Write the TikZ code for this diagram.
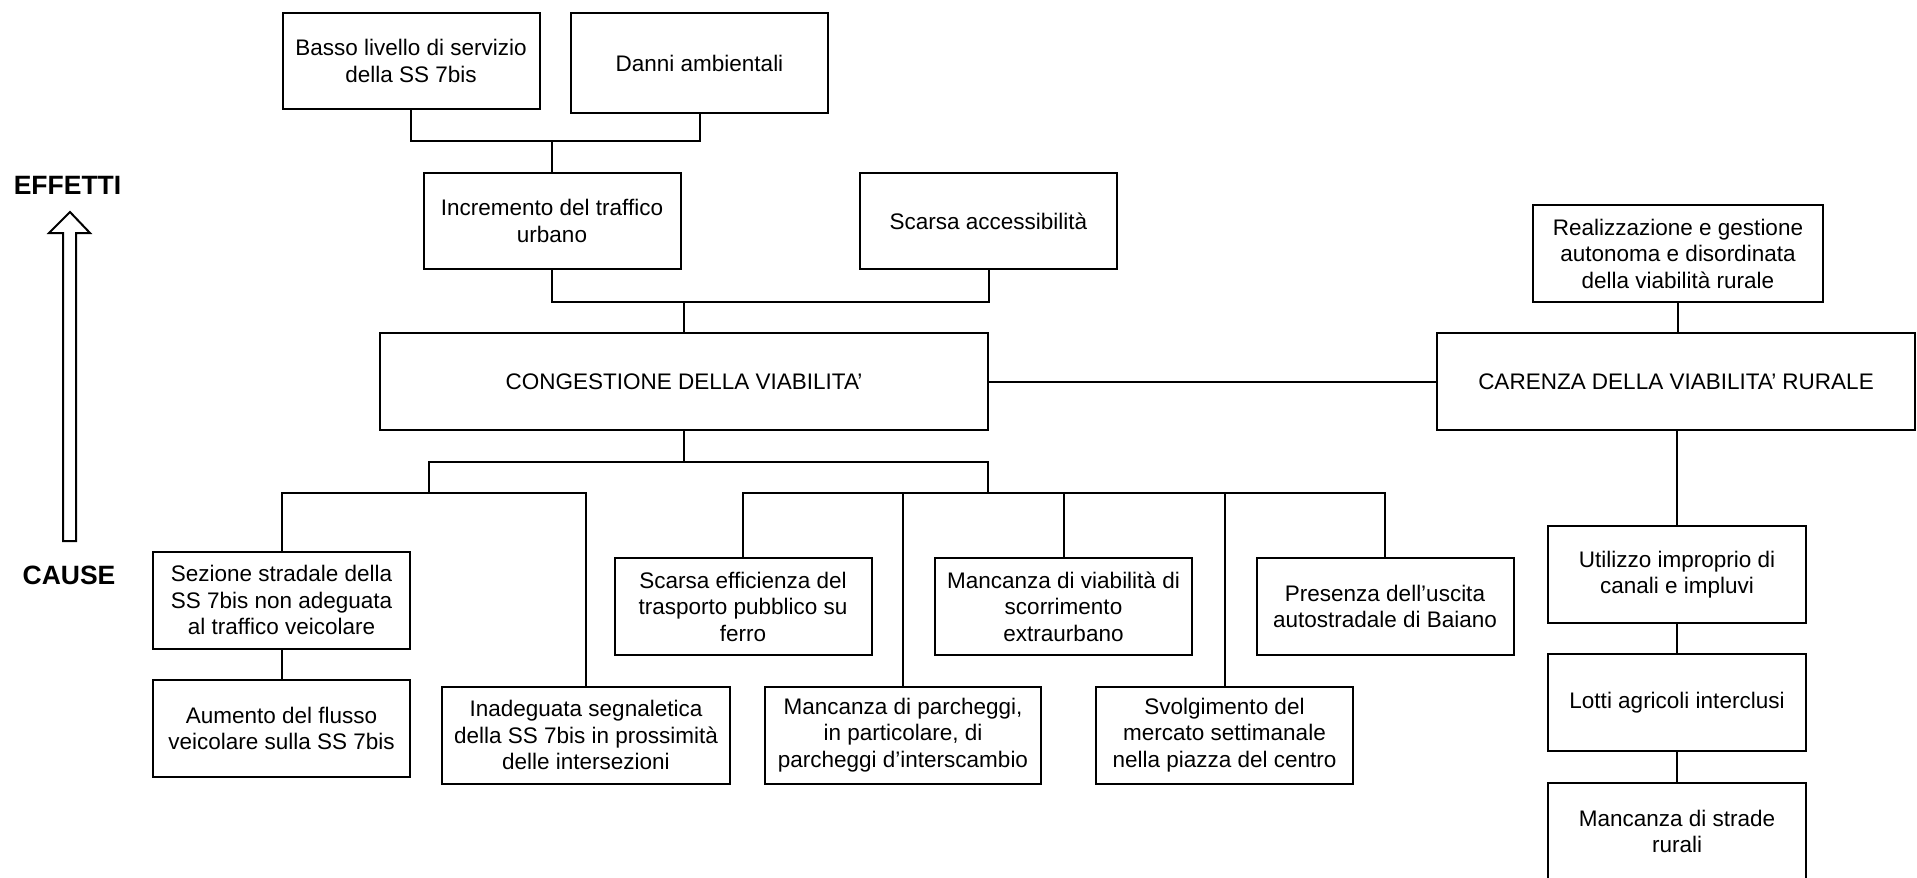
\documentclass[tikz,border=0pt]{standalone}
\usepackage{fontspec}
\setmainfont{Liberation Sans}
\usetikzlibrary{positioning,calc}

\begin{document}
\begin{tikzpicture}[x=0.5pt, y=-0.5pt,
    box/.style={draw, line width=1pt, fill=white, align=center, inner sep=0pt,
      minimum width=128.5pt, minimum height=48.5pt,
      font=\fontsize{11.25pt}{13.25pt}\selectfont},
    conn/.style={line width=1pt},
    lbl/.style={font=\fontsize{13.25pt}{15pt}\selectfont\bfseries}]
    \fill[white] (0,0) rectangle (1917,878);
    \useasboundingbox (0,0) rectangle (1917,878);
    \clip (0,0) rectangle (1917,878);

    % effetti / cause
    \node[lbl] (effetti) at (67.5,185) {EFFETTI};
    \node[lbl] (cause) at (69,575) {CAUSE};
    \draw[line width=1pt, line join=miter] (63,541) -- (63,233) -- (49,233) -- (70,212)
      -- (90,233) -- (76,233) -- (76,541) -- cycle;

    % effetti
    \node[box, minimum height=48pt] (basso) at (411,61) {Basso livello di servizio\\della SS 7bis};
    \node[box, minimum height=50pt] (danni) at (699.5,63) {Danni ambientali};
    \node[box, minimum height=48pt] (incr) at (552,221) {Incremento del traffico\\urbano};
    \node[box, minimum height=48pt] (scacc) at (988.5,221) {Scarsa accessibilità};

    % problemi centrali
    \node[box, minimum width=304pt] (cong) at (684,381.5) {CONGESTIONE DELLA VIABILITA'};
    \node[box, minimum width=239pt] (carenza) at (1676,381.5) {CARENZA DELLA VIABILITA' RURALE};
    \node[box, minimum width=145pt] (real) at (1678,253.5) {Realizzazione e gestione\\autonoma e disordinata\\della viabilità rurale};

    % cause
    \node[box] (sez) at (281.5,600) {Sezione stradale della\\SS 7bis non adeguata\\al traffico veicolare};
    \node[box] (aum) at (281.5,728.5) {Aumento del flusso\\veicolare sulla SS 7bis};
    \node[box, minimum width=144pt] (inad) at (586,735) {Inadeguata segnaletica\\della SS 7bis in prossimità\\delle intersezioni};
    \node[box] (trasp) at (743,606.5) {Scarsa efficienza del\\trasporto pubblico su\\ferro};
    \node[box, minimum width=138pt] (parch) at (903,735) {Mancanza di parcheggi,\\in particolare, di\\parcheggi d'interscambio};
    \node[box] (scorr) at (1063.5,606.5) {Mancanza di viabilità di\\scorrimento\\extraurbano};
    \node[box] (mercato) at (1224.5,735) {Svolgimento del\\mercato settimanale\\nella piazza del centro};
    \node[box] (uscita) at (1385,606.5) {Presenza dell'uscita\\autostradale di Baiano};

    % cause rurali
    \node[box, minimum width=129pt] (util) at (1677,574.5) {Utilizzo improprio di\\canali e impluvi};
    \node[box, minimum width=129pt] (lotti) at (1677,702.5) {Lotti agricoli interclusi};
    \node[box, minimum width=129pt] (strade) at (1677,831.5) {Mancanza di strade\\rurali};

    % connettori effetti
    \coordinate (jtop) at (552,141);
    \draw[conn] (basso.south) |- (jtop) -| (danni.south);
    \draw[conn] (jtop) -- (incr.north);
    \coordinate (jmid) at (684,302);
    \draw[conn] (incr.south) |- (jmid) -| (scacc.south);
    \draw[conn] (jmid) -- (cong.north);
    \draw[conn] (cong) -- (carenza);
    \draw[conn] (real.south) -- (real.south |- carenza.north);

    % connettori cause
    \coordinate (jcause) at (684,462);
    \coordinate (jl) at (429,493);
    \coordinate (jr) at (988,493);
    \draw[conn] (cong.south) -- (jcause);
    \draw[conn] (jl) |- (jcause) -| (jr);
    \draw[conn] (sez.north) |- (jl) -| (inad.north);
    \draw[conn] (sez.south) -- (aum.north);
    \draw[conn] (trasp.north) |- (jr) -| (uscita.north);
    \foreach \n in {parch,scorr,mercato}
      \draw[conn] (\n.north) -- (\n.north |- jr);

    % connettori rurali
    \draw[conn] (carenza.south -| util.north) -- (util.north);
    \draw[conn] (util.south) -- (lotti.north);
    \draw[conn] (lotti.south) -- (strade.north);
\end{tikzpicture}
\end{document}
